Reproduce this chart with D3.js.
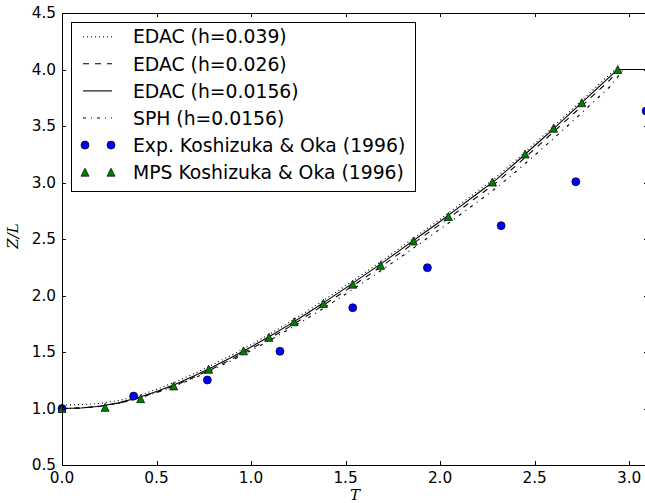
<!DOCTYPE html>
<html>
<head>
<meta charset="utf-8">
<script src="https://cdn.jsdelivr.net/npm/d3@7"></script>
<style>
  html, body { margin: 0; padding: 0; background: #fff; overflow: hidden; }
  svg { display: block; }
</style>
</head>
<body>
<svg id="chart" width="645" height="503"></svg>
<script>
// Free-surface front position Z/L against non-dimensional time T (dam break)

// EDAC, h = 0.039
const edac039T = [0, 0.1, 0.2, 0.3, 0.4, 0.5, 0.6, 0.7, 0.8, 0.9, 1.0, 1.1, 1.2, 1.3, 1.4, 1.5, 1.6, 1.7, 1.8, 1.9, 2.0, 2.1, 2.2, 2.3, 2.4, 2.5, 2.6, 2.7, 2.8, 2.9, 2.925, 3.0, 3.1];
const edac039Z = [1.03, 1.035, 1.045, 1.07, 1.11, 1.17, 1.235, 1.31, 1.39, 1.475, 1.565, 1.66, 1.76, 1.865, 1.975, 2.085, 2.2, 2.315, 2.435, 2.555, 2.675, 2.8, 2.925, 3.05, 3.195, 3.345, 3.495, 3.65, 3.805, 3.96, 4.0, 4.0, 4.0];

// EDAC, h = 0.026
const edac026T = [0, 0.1, 0.2, 0.3, 0.4, 0.5, 0.6, 0.7, 0.8, 0.9, 1.0, 1.1, 1.2, 1.3, 1.4, 1.5, 1.6, 1.7, 1.8, 1.9, 2.0, 2.1, 2.2, 2.3, 2.4, 2.5, 2.6, 2.7, 2.8, 2.9, 2.945, 3.0, 3.1];
const edac026Z = [1.0, 1.005, 1.02, 1.048, 1.09, 1.143, 1.205, 1.278, 1.355, 1.44, 1.528, 1.622, 1.72, 1.825, 1.933, 2.043, 2.156, 2.27, 2.39, 2.51, 2.63, 2.752, 2.877, 3.003, 3.147, 3.297, 3.447, 3.6, 3.755, 3.91, 4.0, 4.0, 4.0];

// EDAC, h = 0.0156
const edac0156T = [0, 0.1, 0.2, 0.3, 0.4, 0.5, 0.6, 0.7, 0.8, 0.9, 1.0, 1.1, 1.2, 1.3, 1.4, 1.5, 1.6, 1.7, 1.8, 1.9, 2.0, 2.1, 2.2, 2.3, 2.4, 2.5, 2.6, 2.7, 2.8, 2.9, 2.94, 3.0, 3.1];
const edac0156Z = [1.0, 1.005, 1.02, 1.05, 1.095, 1.15, 1.215, 1.29, 1.37, 1.455, 1.545, 1.64, 1.74, 1.845, 1.955, 2.065, 2.18, 2.295, 2.415, 2.535, 2.655, 2.78, 2.905, 3.03, 3.175, 3.325, 3.475, 3.63, 3.785, 3.94, 4.0, 4.0, 4.0];

// SPH, h = 0.0156
const sphT = [0, 0.1, 0.2, 0.3, 0.4, 0.5, 0.6, 0.7, 0.8, 0.9, 1.0, 1.1, 1.2, 1.3, 1.4, 1.5, 1.6, 1.7, 1.8, 1.9, 2.0, 2.1, 2.2, 2.3, 2.4, 2.5, 2.6, 2.7, 2.8, 2.9, 2.97, 3.0, 3.1];
const sphZ = [1.0, 1.004, 1.018, 1.046, 1.088, 1.14, 1.2, 1.27, 1.345, 1.427, 1.513, 1.605, 1.7, 1.8, 1.905, 2.012, 2.122, 2.235, 2.35, 2.468, 2.587, 2.708, 2.83, 2.955, 3.095, 3.24, 3.39, 3.54, 3.695, 3.85, 4.0, 4.0, 4.0];

// Experiment, Koshizuka & Oka (1996)
const expT = [0, 0.379, 0.769, 1.153, 1.538, 1.933, 2.323, 2.718, 3.09];
const expZ = [1.0, 1.11, 1.252, 1.506, 1.892, 2.246, 2.618, 3.007, 3.633];

// MPS, Koshizuka & Oka (1996)
const mpsT = [0, 0.228, 0.416, 0.591, 0.776, 0.96, 1.095, 1.228, 1.383, 1.538, 1.686, 1.859, 2.044, 2.277, 2.45, 2.60, 2.75, 2.94];
const mpsZ = [1.0, 1.01, 1.087, 1.20, 1.347, 1.51, 1.63, 1.768, 1.93, 2.10, 2.267, 2.482, 2.70, 3.004, 3.252, 3.48, 3.706, 4.0];

const xTicks = [0.0, 0.5, 1.0, 1.5, 2.0, 2.5, 3.0];
const yTicks = [0.5, 1.0, 1.5, 2.0, 2.5, 3.0, 3.5, 4.0, 4.5];

const seriesLines = [
  { label: "EDAC (h=0.039)",  t: edac039T,  z: edac039Z,  dash: "1,3" },
  { label: "EDAC (h=0.026)",  t: edac026T,  z: edac026Z,  dash: "6,6" },
  { label: "EDAC (h=0.0156)", t: edac0156T, z: edac0156Z, dash: null },
  { label: "SPH (h=0.0156)",  t: sphT,      z: sphZ,      dash: "3,5,1,5" }
];

const svg = d3.select("#chart");
const plot = { left: 62, top: 13, right: 648, bottom: 465 };

const x = d3.scaleLinear().domain([0, 3.1]).range([plot.left, plot.right]);
const y = d3.scaleLinear().domain([0.5, 4.5]).range([plot.bottom, plot.top]);

const tickFont = "'DejaVu Sans', sans-serif";

// clip for the curves
svg.append("defs").append("clipPath").attr("id", "plotclip")
  .append("rect")
  .attr("x", plot.left).attr("y", plot.top)
  .attr("width", plot.right - plot.left).attr("height", plot.bottom - plot.top);

const marks = svg.append("g").attr("clip-path", "url(#plotclip)");

const line = d3.line().x(d => x(d[0])).y(d => y(d[1]));

seriesLines.forEach(s => {
  const pts = s.t.map((t, i) => [t, s.z[i]]);
  marks.append("path")
    .attr("d", line(pts))
    .attr("fill", "none")
    .attr("stroke", "#000")
    .attr("stroke-width", 1.1)
    .attr("stroke-dasharray", s.dash);
});

function circleMark(g, cx, cy) {
  g.append("circle")
    .attr("cx", cx).attr("cy", cy).attr("r", 4)
    .attr("fill", "#0000ff").attr("stroke", "#000").attr("stroke-width", 0.7);
}
function triMark(g, cx, cy) {
  g.append("path")
    .attr("d", "M0,-4L4,4L-4,4Z")
    .attr("transform", `translate(${cx},${cy})`)
    .attr("fill", "#008000").attr("stroke", "#000").attr("stroke-width", 0.7);
}

const markG = svg.append("g");
expT.forEach((t, i) => circleMark(markG, x(t), y(expZ[i])));
mpsT.forEach((t, i) => triMark(markG, x(t), y(mpsZ[i])));

// frame
svg.append("rect")
  .attr("x", plot.left + 0.5).attr("y", plot.top + 0.5)
  .attr("width", plot.right - plot.left).attr("height", plot.bottom - plot.top)
  .attr("fill", "none").attr("stroke", "#000").attr("stroke-width", 1);

// inward ticks on all four sides
const tickLen = 4;
const tg = svg.append("g").attr("stroke", "#000").attr("stroke-width", 1);
xTicks.forEach(v => {
  const px = Math.round(x(v)) + 0.5;
  tg.append("line").attr("x1", px).attr("x2", px).attr("y1", plot.bottom).attr("y2", plot.bottom - tickLen);
  tg.append("line").attr("x1", px).attr("x2", px).attr("y1", plot.top).attr("y2", plot.top + tickLen);
});
yTicks.forEach(v => {
  const py = Math.round(y(v)) + 0.5;
  tg.append("line").attr("x1", plot.left).attr("x2", plot.left + tickLen).attr("y1", py).attr("y2", py);
  tg.append("line").attr("x1", plot.right).attr("x2", plot.right - tickLen).attr("y1", py).attr("y2", py);
});

// tick labels
svg.append("g").selectAll("text").data(xTicks).join("text")
  .attr("x", d => x(d)).attr("y", plot.bottom + 18)
  .attr("text-anchor", "middle")
  .attr("font-family", tickFont).attr("font-size", 15.3)
  .text(d => d3.format(".1f")(d));

svg.append("g").selectAll("text").data(yTicks).join("text")
  .attr("x", plot.left - 6).attr("y", d => y(d)).attr("dy", "0.35em")
  .attr("text-anchor", "end")
  .attr("font-family", tickFont).attr("font-size", 15.3)
  .text(d => d3.format(".1f")(d));

// axis titles
svg.append("text")
  .attr("x", (plot.left + plot.right) / 2).attr("y", 500)
  .attr("text-anchor", "middle")
  .attr("font-family", "'DejaVu Serif', serif").attr("font-style", "italic").attr("font-size", 15)
  .text("T");

svg.append("text")
  .attr("transform", `translate(18,${(plot.top + plot.bottom) / 2 - 3}) rotate(-90)`)
  .attr("text-anchor", "middle")
  .attr("font-family", "'DejaVu Serif', serif").attr("font-style", "italic").attr("font-size", 15)
  .text("Z/L");

// legend
const leg = { x: 71, y: 22, w: 344, h: 169 };
const lg = svg.append("g");
lg.append("rect")
  .attr("x", leg.x + 0.5).attr("y", leg.y + 0.5).attr("width", leg.w).attr("height", leg.h)
  .attr("fill", "#fff").attr("stroke", "#000").attr("stroke-width", 1);

const rowY0 = 36.7, rowStep = 27.1;
const sx1 = 83, sx2 = 112, textX = 133;
const legFont = 18.8;

seriesLines.forEach((s, i) => {
  const ry = rowY0 + i * rowStep;
  lg.append("line")
    .attr("x1", sx1).attr("x2", sx2).attr("y1", ry).attr("y2", ry)
    .attr("stroke", "#000").attr("stroke-width", 1.1)
    .attr("stroke-dasharray", s.dash);
  lg.append("text")
    .attr("x", textX).attr("y", ry).attr("dy", "0.36em")
    .attr("font-family", tickFont).attr("font-size", legFont)
    .text(s.label);
});

const expRow = rowY0 + 4 * rowStep;
circleMark(lg, 85, expRow);
circleMark(lg, 111, expRow);
lg.append("text")
  .attr("x", textX).attr("y", expRow).attr("dy", "0.36em")
  .attr("font-family", tickFont).attr("font-size", legFont)
  .text("Exp. Koshizuka & Oka (1996)");

const mpsRow = rowY0 + 5 * rowStep;
triMark(lg, 85, mpsRow);
triMark(lg, 111, mpsRow);
lg.append("text")
  .attr("x", textX).attr("y", mpsRow).attr("dy", "0.36em")
  .attr("font-family", tickFont).attr("font-size", legFont)
  .text("MPS Koshizuka & Oka (1996)");
</script>
</body>
</html>
